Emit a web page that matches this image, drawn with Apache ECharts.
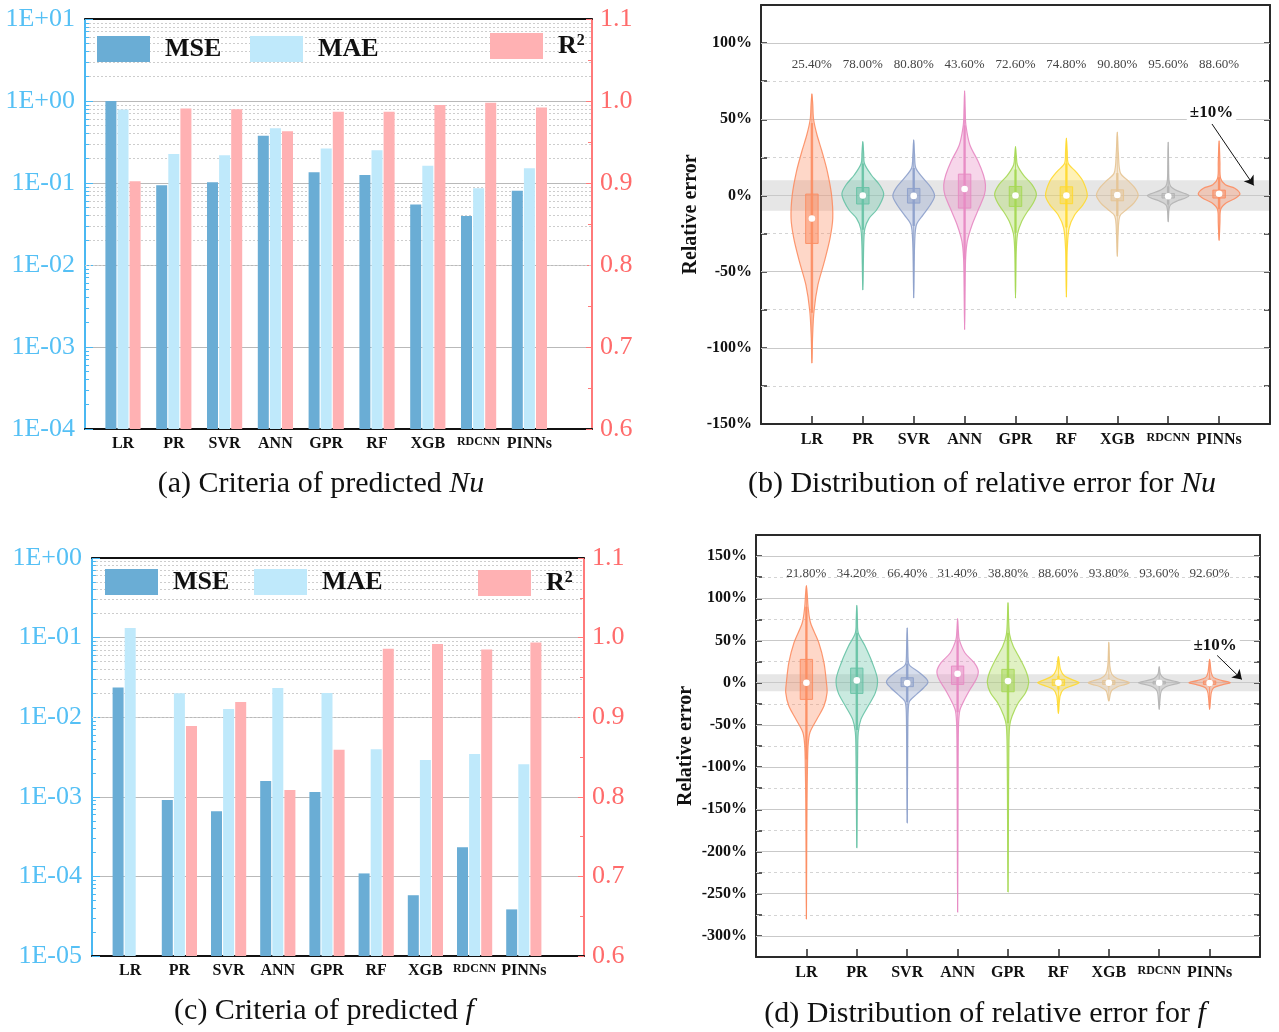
<!DOCTYPE html>
<html>
<head>
<meta charset="utf-8">
<script src="https://cdn.jsdelivr.net/npm/echarts@6/dist/echarts.min.js"></script>
<style>
  html, body { margin: 0; padding: 0; background: #fff; }
  #chart { width: 1279px; height: 1032px; }
</style>
</head>
<body>
<div id="chart"></div>
<script>
// ---- data ----
const cats = ['LR', 'PR', 'SVR', 'ANN', 'GPR', 'RF', 'XGB', 'RDCNN', 'PINNs'];

// (a) criteria for Nu
const nuMSE = [1.0, 0.094, 0.102, 0.378, 0.135, 0.125, 0.0545, 0.0396, 0.0807];
const nuMAE = [0.79, 0.226, 0.218, 0.465, 0.263, 0.25, 0.162, 0.086, 0.151];
const nuR2  = [0.902, 0.991, 0.990, 0.963, 0.987, 0.987, 0.995, 0.998, 0.992];

// (c) criteria for f  (LR has no R2 bar in the range shown)
const fMSE = [0.0236, 0.00091, 0.00066, 0.00158, 0.00115, 0.000109, 0.000058, 0.000232, 0.0000385];
const fMAE = [0.132, 0.020, 0.0127, 0.0232, 0.0202, 0.00396, 0.0029, 0.00345, 0.00257];
const fR2  = [null, 0.889, 0.919, 0.8085, 0.859, 0.986, 0.992, 0.985, 0.994];

// share of samples inside +-10 %
const nuWithin = ['25.40%', '78.00%', '80.80%', '43.60%', '72.60%', '74.80%', '90.80%', '95.60%', '88.60%'];
const fWithin  = ['21.80%', '34.20%', '66.40%', '31.40%', '38.80%', '88.60%', '93.80%', '93.60%', '92.60%'];

// box stats, relative error in %: [min, whiskerLow, q1, median, q3, whiskerHigh, max]
const nuStats = [
  [-110, -77, -31.5, -15.1, 0.9, 47.5, 66.7],
  [-62, -22.5, -5.6, 0, 5.2, 21, 35.4],
  [-67.3, -20, -5, -0.3, 4.6, 18, 36.5],
  [-88, -42, -8.3, 4.2, 14, 46, 68.7],
  [-67.3, -24.5, -7.2, 0, 5.9, 17, 32],
  [-66.7, -21, -5.4, 0, 5.7, 21, 37.7],
  [-40, -13.6, -3.5, 0.3, 3.7, 14.7, 41.6],
  [-17.3, -6, -1.7, -0.5, 1.3, 6, 35],
  [-29.5, -9, -1.7, 1.1, 3.5, 12, 35.9]
];
const fStats = [
  [-280, -90.9, -19.8, 0, 27.6, 90, 115],
  [-195.5, -56, -12.7, 2.7, 17.3, 59, 91.6],
  [-166, -23, -4.7, -0.5, 5.9, 22.5, 65],
  [-271.8, -35, -2, 10.6, 19.7, 50, 75.8],
  [-248, -48, -10.7, 1.9, 15.8, 59, 94.8],
  [-36.4, -8, -3.2, 0, 3.9, 8, 30.8],
  [-21.7, -5, -2, 0, 2.5, 5, 48],
  [-31.6, -4, -1.5, 0, 1.5, 4, 19],
  [-31.6, -5, -2, -0.5, 2, 5, 27.6]
];

// violin outlines: [relative error %, relative density 0..1], top to bottom
const nuViolins = [
  [[66.7,0],[60,0.04],[50,0.08],[40,0.24],[29,0.48],[15.7,0.74],[0.5,0.94],[-14.8,1],[-28,0.87],[-43.3,0.6],[-58.6,0.29],[-76,0.1],[-93.6,0.03],[-110,0]],
  [[35.4,0],[28,0.04],[21,0.08],[13.6,0.4],[7,0.8],[1.3,1],[-4,0.89],[-9.7,0.65],[-15,0.3],[-21.7,0.1],[-30,0.05],[-45,0.025],[-62,0]],
  [[36.5,0],[27,0.04],[18,0.1],[11.4,0.45],[5,0.84],[-0.3,1],[-6.1,0.8],[-12.7,0.45],[-19.2,0.13],[-30,0.05],[-50,0.02],[-67.3,0]],
  [[68.7,0],[56,0.03],[46.4,0.06],[33.3,0.25],[22.3,0.65],[13.6,0.9],[7,1],[0.5,0.95],[-8.3,0.69],[-19.2,0.36],[-30,0.13],[-41,0.05],[-60,0.025],[-88,0]],
  [[32,0],[26,0.04],[20,0.09],[13,0.4],[7,0.8],[1,1],[-5,0.85],[-11,0.55],[-17,0.3],[-25,0.1],[-35,0.04],[-50,0.02],[-67.3,0]],
  [[37.7,0],[29,0.04],[21,0.09],[15.7,0.45],[9.2,0.8],[0,1],[-6,0.8],[-12.7,0.4],[-21.4,0.13],[-35,0.04],[-50,0.02],[-66.7,0]],
  [[41.6,0],[28,0.05],[14.7,0.15],[9.2,0.55],[4.8,0.85],[0,1],[-4.8,0.8],[-9.2,0.45],[-13.6,0.12],[-25,0.04],[-40,0]],
  [[35,0],[20,0.02],[10,0.04],[6,0.12],[3,0.45],[1,0.85],[0,1],[-1.5,0.85],[-3.5,0.45],[-6,0.12],[-9,0.04],[-17.3,0]],
  [[35.9,0],[22,0.04],[11.4,0.07],[7,0.3],[4.8,0.75],[1,1],[-1.7,0.8],[-4.8,0.35],[-9,0.08],[-18,0.04],[-29.5,0]]
];
const fViolins = [
  [[115,0],[105,0.04],[90,0.08],[71,0.2],[47.4,0.6],[23.7,0.85],[0,0.97],[-11.8,1],[-27.7,0.85],[-43.5,0.5],[-59,0.17],[-75,0.08],[-103,0.05],[-142,0.03],[-200,0.015],[-280,0]],
  [[91.6,0],[75,0.03],[59,0.07],[43.4,0.4],[23.7,0.75],[4,1],[-11.8,0.9],[-27.7,0.55],[-43.5,0.2],[-59,0.07],[-87,0.04],[-142,0.02],[-195.5,0]],
  [[65,0],[40,0.03],[23.7,0.06],[19.7,0.15],[11.8,0.6],[4,0.95],[0,1],[-6,0.8],[-13.8,0.45],[-21.7,0.12],[-31.6,0.05],[-60,0.03],[-110,0.015],[-166,0]],
  [[75.8,0],[60,0.04],[51,0.08],[35.5,0.35],[23.7,0.8],[13.8,1],[4,0.9],[-8,0.6],[-21.7,0.3],[-33.6,0.1],[-55,0.04],[-142,0.02],[-271.8,0]],
  [[94.8,0],[75,0.03],[57,0.08],[43.4,0.25],[27.6,0.6],[11.8,0.9],[0,1],[-11.8,0.85],[-23.7,0.5],[-39.5,0.2],[-51,0.08],[-83,0.04],[-162,0.02],[-248,0]],
  [[30.8,0],[15.8,0.1],[7.9,0.3],[2.8,0.75],[0,1],[-3.2,0.7],[-7.9,0.25],[-15.8,0.08],[-36.4,0]],
  [[48,0],[20,0.05],[10,0.15],[5,0.4],[2,0.8],[0,1],[-2,0.8],[-5,0.4],[-10,0.12],[-21.7,0]],
  [[19,0],[10,0.06],[5,0.25],[2,0.7],[0,1],[-2,0.7],[-5,0.3],[-10,0.1],[-20,0.04],[-31.6,0]],
  [[27.6,0],[12,0.08],[6,0.2],[2.5,0.6],[0,1],[-2.5,0.6],[-6,0.2],[-12,0.08],[-31.6,0]]
];

// ---- styles ----
const SERIF = '"Liberation Serif", "Times New Roman", serif';
const MSE_C = '#6aadd5', MAE_C = '#bfe9fb', R2_C = '#ffb1b3';
const BLUE = '#4ab8f2', RED = '#ff7a7a';
const violinColors = ['#fc8d62', '#66c2a5', '#8da0cb', '#e78ac3', '#a6d854', '#ffd92f', '#e5c494', '#b3b3b3', '#fc8d62'];

const grids = [], xAxes = [], yAxes = [], series = [];

function sciLabel(v) {
  const e = Math.round(Math.log10(v));
  const a = Math.abs(e);
  return '1E' + (e < 0 ? '-' : '+') + (a < 10 ? '0' : '') + a;
}

function addBarPanel(p) {
  const gA = grids.length;
  grids.push({ left: p.left, right: p.right, top: p.top, bottom: p.bottom });
  grids.push({ left: p.barLeft, width: p.barWidth, top: p.top, bottom: p.bottom });
  const frameX = {
    gridIndex: gA, type: 'value', min: 0, max: 100,
    axisLine: { show: true, onZero: false, lineStyle: { color: '#111', width: 2 } },
    axisTick: { show: false }, axisLabel: { show: false }, splitLine: { show: false }
  };
  const xA = xAxes.length;
  xAxes.push(Object.assign({ position: 'bottom' }, frameX));
  xAxes.push(Object.assign({ position: 'top' }, frameX));
  xAxes.push({
    gridIndex: gA + 1, type: 'category',
    data: cats.map(c => c === 'RDCNN' ? { value: c, textStyle: { fontSize: 12 } } : c),
    axisLine: { show: false, onZero: false }, axisTick: { show: false },
    axisLabel: { fontFamily: SERIF, fontWeight: 'bold', fontSize: 16, color: '#111', margin: 7, interval: 0 }
  });
  const yA = yAxes.length;
  yAxes.push({
    gridIndex: gA, type: 'log', logBase: 10, min: p.logMin, max: p.logMax, position: 'left',
    axisLine: { show: true, onZero: false, lineStyle: { color: BLUE, width: 2 } },
    axisTick: { show: true, inside: true, length: 8, lineStyle: { color: BLUE } },
    axisLabel: { color: '#55c0f5', fontFamily: SERIF, fontSize: 26, margin: 10, formatter: sciLabel },
    splitLine: { show: true, lineStyle: { color: '#b9b9b9', width: 1 } }
  });
  yAxes.push({
    gridIndex: gA, type: 'value', min: 0.6, max: 1.1, interval: 0.1, position: 'right',
    axisLine: { show: true, onZero: false, lineStyle: { color: RED, width: 2 } },
    axisTick: { show: true, inside: true, length: 6, lineStyle: { color: RED } },
    minorTick: { show: true, splitNumber: 2, length: 4, lineStyle: { color: RED } },
    axisLabel: { color: '#ff6b6b', fontFamily: SERIF, fontSize: 26, margin: 8, formatter: v => v.toFixed(1) },
    splitLine: { show: false }
  });
  yAxes.push({ gridIndex: gA + 1, type: 'log', logBase: 10, min: p.logMin, max: p.logMax, show: false,
    axisLine: { onZero: false }, startValue: p.logMin });
  yAxes.push({ gridIndex: gA + 1, type: 'value', min: 0.6, max: 1.1, show: false,
    axisLine: { onZero: false }, startValue: 0.6 });

  // dotted minor log gridlines and short minor ticks on the log axis
  const minor = [];
  for (let e = Math.round(Math.log10(p.logMin)); e < Math.round(Math.log10(p.logMax)); e++) {
    for (let k = 2; k <= 9; k++) minor.push(k * Math.pow(10, e));
  }
  const dotted = { color: '#cdcdcd', type: [2, 2], width: 1 };
  const tickStyle = { color: BLUE, type: 'solid', width: 1 };
  const mlData = minor.map(v => ({ yAxis: v, lineStyle: dotted }))
    .concat(minor.map(v => [{ coord: [0, v], lineStyle: tickStyle }, { coord: [0.8, v], lineStyle: tickStyle }]));
  series.push({
    type: 'scatter', xAxisIndex: xA, yAxisIndex: yA, data: [], silent: true, z: 1,
    markLine: { z: 1, silent: true, symbol: ['none', 'none'], label: { show: false }, animation: false, data: mlData }
  });

  const barBase = { type: 'bar', xAxisIndex: xA + 2, barWidth: 11, barGap: '10%', z: 3 };
  series.push(Object.assign({ name: 'MSE', yAxisIndex: yA + 2, data: p.mse, itemStyle: { color: MSE_C } }, barBase));
  series.push(Object.assign({ name: 'MAE', yAxisIndex: yA + 2, data: p.mae, itemStyle: { color: MAE_C } }, barBase));
  series.push(Object.assign({ name: 'R²', yAxisIndex: yA + 3, data: p.r2, itemStyle: { color: R2_C } }, barBase));
}

function violinRenderer(profiles) {
  return function (params, api) {
    const i = params.dataIndex;
    const x = api.value(0);
    const color = violinColors[i];
    const unit = api.size([1, 0])[0];
    const half = unit * 0.41;
    const left = [], right = [];
    profiles[i].forEach(([v, w]) => {
      const c = api.coord([x, v]);
      left.push([c[0] - w * half, c[1]]);
      right.push([c[0] + w * half, c[1]]);
    });
    const pts = left.concat(right.reverse().slice(1, -1));
    const s = [1, 2, 3, 4, 5, 6, 7].map(k => api.value(k));
    const pMin = api.coord([x, s[0]]), pLo = api.coord([x, s[1]]), pQ1 = api.coord([x, s[2]]);
    const pMed = api.coord([x, s[3]]), pQ3 = api.coord([x, s[4]]), pHi = api.coord([x, s[5]]), pMax = api.coord([x, s[6]]);
    const boxW = unit * 0.245;
    const a = echarts.color.modifyAlpha;
    return {
      type: 'group',
      children: [
        { type: 'polygon', shape: { points: pts, smooth: 0.3 },
          style: { fill: a(color, 0.35), stroke: a(color, 0.9), lineWidth: 1.2 } },
        { type: 'line', shape: { x1: pMin[0], y1: pMin[1], x2: pMax[0], y2: pMax[1] },
          style: { stroke: a(color, 0.85), lineWidth: 1 } },
        { type: 'line', shape: { x1: pLo[0], y1: pLo[1], x2: pHi[0], y2: pHi[1] },
          style: { stroke: a(color, 0.85), lineWidth: 2.5 } },
        { type: 'rect', shape: { x: pQ3[0] - boxW / 2, y: pQ3[1], width: boxW, height: pQ1[1] - pQ3[1] },
          style: { fill: a(color, 0.5), stroke: a(color, 0.9), lineWidth: 1 } },
        { type: 'circle', shape: { cx: pMed[0], cy: pMed[1], r: 3.3 }, style: { fill: '#fff' } }
      ]
    };
  };
}

function addViolinPanel(p) {
  const g = grids.length;
  grids.push({ left: p.left, right: p.right, top: p.top, bottom: p.bottom });
  const frameLine = { show: true, onZero: false, lineStyle: { color: '#2a2a2a', width: 2 } };
  const xI = xAxes.length;
  xAxes.push({
    gridIndex: g, type: 'value', min: 0, max: 10, interval: 1, position: 'bottom',
    axisLine: frameLine,
    axisTick: { show: true, inside: true, length: 8, lineStyle: { color: '#2a2a2a', width: 1.5 } },
    axisLabel: {
      fontFamily: SERIF, fontWeight: 'bold', fontSize: 16, color: '#111', margin: 8,
      formatter: v => { const c = cats[v - 1]; if (!c) return ''; return c === 'RDCNN' ? '{s|' + c + '}' : c; },
      rich: { s: { fontFamily: SERIF, fontWeight: 'bold', fontSize: 12, color: '#111' } }
    },
    splitLine: { show: false }
  });
  xAxes.push({
    gridIndex: g, type: 'value', min: 0, max: 10, interval: 1, position: 'top',
    axisLine: frameLine, axisTick: { show: false },
    axisLabel: { inside: true, margin: p.pctMargin, fontFamily: SERIF, fontSize: 13, color: '#444',
      formatter: v => p.within[v - 1] || '' },
    splitLine: { show: false }
  });
  const yI = yAxes.length;
  yAxes.push({
    gridIndex: g, type: 'value', min: p.min, max: p.max, interval: 25, position: 'left',
    axisLine: frameLine,
    axisTick: { show: true, inside: true, length: 6, lineStyle: { color: '#2a2a2a', width: 1.5 } },
    axisLabel: { fontFamily: SERIF, fontWeight: 'bold', fontSize: 16, color: '#111', margin: 9,
      formatter: v => (v % 50 === 0 ? v + '%' : '') },
    name: 'Relative error', nameLocation: 'middle', nameGap: p.nameGap,
    nameTextStyle: { fontFamily: SERIF, fontWeight: 'bold', fontSize: 20, color: '#111' },
    splitLine: { show: false }
  });
  yAxes.push({
    gridIndex: g, type: 'value', min: p.min, max: p.max, interval: 25, position: 'right',
    axisLine: frameLine,
    axisTick: { show: true, inside: true, length: 6, lineStyle: { color: '#2a2a2a', width: 1.5 } },
    axisLabel: { show: false }, splitLine: { show: false }
  });

  const grid = [];
  for (let v = p.min + 25; v < p.max; v += 25) {
    grid.push({ yAxis: v, lineStyle: v % 50 === 0
      ? { color: '#c9c9c9', type: 'solid', width: 1.2 }
      : { color: '#d4d4d4', type: [3, 3], width: 1 } });
  }
  series.push({
    type: 'scatter', xAxisIndex: xI, yAxisIndex: yI, data: [], silent: true, z: 1,
    markArea: { z: 0, silent: true, itemStyle: { color: '#e6e6e6' }, data: [[{ yAxis: -10 }, { yAxis: 10 }]] },
    markLine: { z: 1, silent: true, symbol: ['none', 'none'], label: { show: false }, data: grid }
  });
  series.push({
    type: 'custom', xAxisIndex: xI, yAxisIndex: yI, z: 3, silent: true,
    renderItem: violinRenderer(p.violins),
    data: p.stats.map((s, i) => [i + 1].concat(s)),
    encode: { x: 0, y: [1, 2, 3, 4, 5, 6, 7] }
  });
  series.push({
    type: 'scatter', xAxisIndex: xI, yAxisIndex: yI, data: [], silent: true, z: 5,
    markLine: {
      z: 5, silent: true, symbol: ['none', 'arrow'], symbolSize: 9, label: { show: false },
      lineStyle: { color: '#111', width: 1, type: 'solid' },
      data: [[{ coord: p.arrow[0] }, { coord: p.arrow[1] }]]
    },
    markPoint: {
      z: 6, silent: true, symbol: 'circle', symbolSize: 0,
      label: { show: true, position: 'inside', formatter: '±10%', fontFamily: SERIF, fontWeight: 'bold',
        fontSize: 17, color: '#111', backgroundColor: '#fff', padding: [1, 3] },
      data: [{ coord: p.tag }]
    }
  });
}

addBarPanel({ left: 85, right: 687, top: 19, bottom: 603, barLeft: 97.6, barWidth: 457.2,
  logMin: 1e-4, logMax: 10, mse: nuMSE, mae: nuMAE, r2: nuR2 });
addBarPanel({ left: 92, right: 695, top: 558, bottom: 76, barLeft: 105.6, barWidth: 442.8,
  logMin: 1e-5, logMax: 1, mse: fMSE, mae: fMAE, r2: fR2 });
addViolinPanel({ left: 761, right: 9, top: 5, bottom: 608, min: -150, max: 125, pctMargin: 53, nameGap: 60,
  within: nuWithin, stats: nuStats, violins: nuViolins,
  arrow: [[8.86, 46.9], [9.68, 6.6]], tag: [8.85, 54.5] });
addViolinPanel({ left: 756, right: 19, top: 535, bottom: 75, min: -325, max: 175, pctMargin: 32, nameGap: 60,
  within: fWithin, stats: fStats, violins: fViolins,
  arrow: [[9.15, 32.3], [9.64, 3.9]], tag: [9.11, 44] });

const legendText = {
  fontFamily: SERIF, fontWeight: 'bold', fontSize: 26, color: '#111', padding: [0, 0, 0, 10],
  rich: {
    r: { fontFamily: SERIF, fontWeight: 'bold', fontSize: 26, color: '#111' },
    s: { fontFamily: SERIF, fontWeight: 'bold', fontSize: 16, color: '#111', verticalAlign: 'top' }
  }
};
function legendAt(name, left, top) {
  return {
    data: [name], left: left, top: top, padding: 0, z: 10, icon: 'rect', itemWidth: 53, itemHeight: 26,
    selectedMode: false, textStyle: legendText,
    formatter: n => (n === 'R²' ? '{r|R}{s|2}' : n)
  };
}

function caption(x, y, text) {
  return {
    type: 'text', x: x, y: y, silent: true,
    style: {
      text: text, fill: '#111', fontFamily: SERIF, fontSize: 30,
      align: 'center', verticalAlign: 'middle', textAlign: 'center', textVerticalAlign: 'middle',
      rich: { i: { fontFamily: SERIF, fontSize: 30, fontStyle: 'italic', fill: '#111' } }
    }
  };
}

const chart = echarts.init(document.getElementById('chart'), null, { renderer: 'canvas' });
chart.setOption({
  animation: false,
  backgroundColor: '#fff',
  grid: grids,
  xAxis: xAxes,
  yAxis: yAxes,
  series: series,
  legend: [
    legendAt('MSE', 97, 36), legendAt('MAE', 250, 36), legendAt('R²', 490, 33),
    legendAt('MSE', 105, 569), legendAt('MAE', 254, 569), legendAt('R²', 478, 570)
  ],
  graphic: [
    caption(321, 484, '(a) Criteria of predicted {i|Nu}'),
    caption(982, 484, '(b) Distribution of relative error for {i|Nu}'),
    caption(324, 1011, '(c) Criteria of predicted {i|f}'),
    caption(985, 1014, '(d) Distribution of relative error for {i|f}')
  ]
});
</script>
</body>
</html>
